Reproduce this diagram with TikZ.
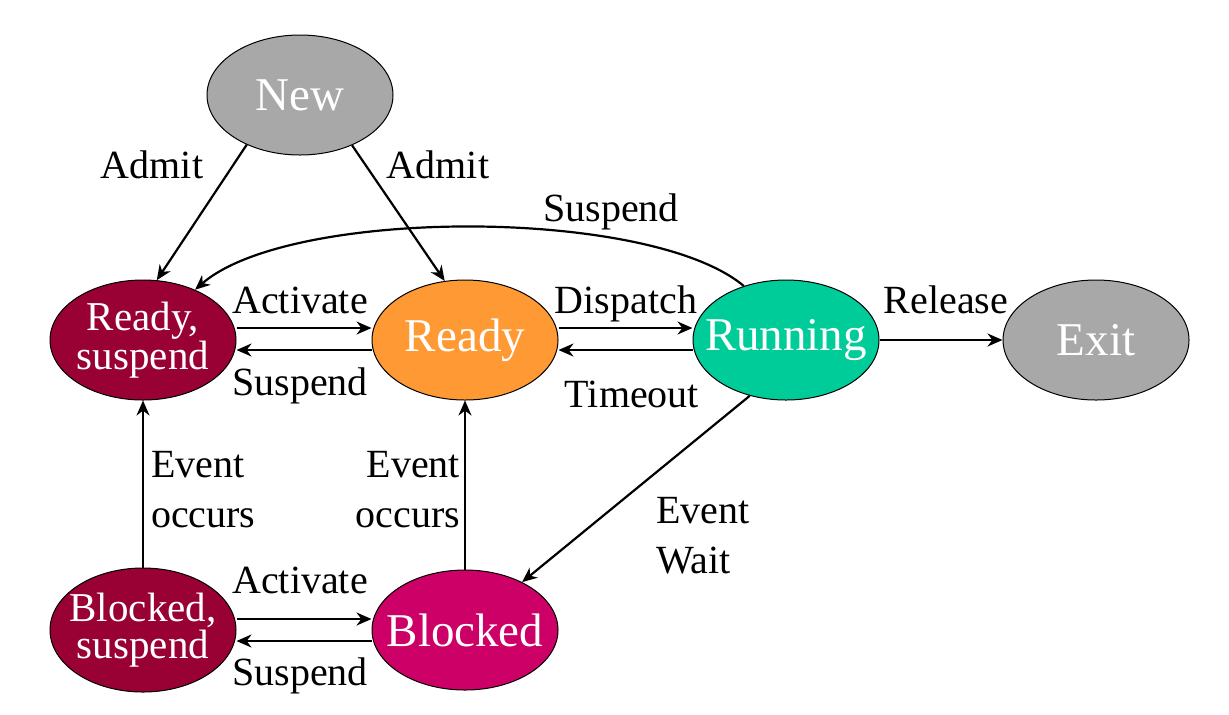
\documentclass[tikz,border=0pt]{standalone}
\usepackage{fontspec}
\setmainfont{Liberation Serif}
\usetikzlibrary{arrows.meta,shapes.geometric}
\definecolor{stgray}{RGB}{168,168,168}
\definecolor{stdark}{RGB}{153,0,51}
\definecolor{storange}{RGB}{255,153,51}
\definecolor{stteal}{RGB}{0,204,153}
\definecolor{stmag}{RGB}{204,0,102}
\begin{document}
\begin{tikzpicture}[x=0.5pt,y=-0.5pt,
  st/.style={ellipse, draw=black, line width=0.5pt, minimum width=93pt, minimum height=60pt,
    inner sep=-14pt, align=center, text=white, font=\fontsize{23.5}{26}\selectfont},
  st2/.style={st, font=\fontsize{20.5}{18.5}\selectfont},
  arr/.style={-{Stealth[length=7.5pt,width=6.5pt]}, line width=1.1pt},
  lab/.style={font=\fontsize{20}{25}\selectfont, inner sep=0pt, anchor=base},
  labl/.style={font=\fontsize{20}{25}\selectfont, inner sep=0pt, align=left, anchor=north west},
  labr/.style={font=\fontsize{20}{25}\selectfont, inner sep=0pt, align=right, anchor=north east}]
\useasboundingbox (0,0) rectangle (1229,714);
\node[st, fill=stgray] (new) at (300,95) {New};
\node[st2, fill=stdark] (rs) at (143,340) {Ready,\\suspend};
\node[st, fill=storange] (rd) at (465,340) {Ready};
\node[st, fill=stteal] (run) at (786,340) {Running};
\node[st, fill=stgray] (ex) at (1096,340) {Exit};
\node[st2, fill=stdark, minimum height=62pt] (bs) at (143,630) {Blocked,\\suspend};
\node[st, fill=stmag] (bl) at (465,630) {Blocked};

\draw[arr] (new.223) -- (rs.77) node[lab] at (152,178) {Admit};
\draw[arr] (new.316) -- (rd.109) node[lab] at (438,178) {Admit};
\draw[arr] (run.128) .. controls (650,207) and (290,207) .. (rs.44) node[lab] at (611,221) {Suspend};
\draw[arr] ([yshift=6pt]rs.east) -- ([yshift=6pt]rd.west) node[lab] at (300,313) {Activate};
\draw[arr] ([yshift=-5pt]rd.west) -- ([yshift=-5pt]rs.east) node[lab] at (300,395) {Suspend};
\draw[arr] ([yshift=6pt]rd.east) -- ([yshift=6pt]run.west) node[lab] at (626,313) {Dispatch};
\draw[arr] ([yshift=-5pt]run.west) -- ([yshift=-5pt]rd.east) node[lab] at (632,407) {Timeout};
\draw[arr] (run) -- (ex) node[lab] at (946,313) {Release};
\draw[arr] (bs) -- (rs) node[labl] at (150,450) {Event\\occurs};
\draw[arr] (bl) -- (rd) node[labr] at (461,450) {Event\\occurs};
\draw[arr] (run.237) -- (bl.40) node[labl] at (655,496) {Event\\Wait};
\draw[arr] ([yshift=5.5pt]bs.east) -- ([yshift=5.5pt]bl.west) node[lab] at (300,593) {Activate};
\draw[arr] ([yshift=-5.5pt]bl.west) -- ([yshift=-5.5pt]bs.east) node[lab] at (300,685) {Suspend};
\end{tikzpicture}
\end{document}
